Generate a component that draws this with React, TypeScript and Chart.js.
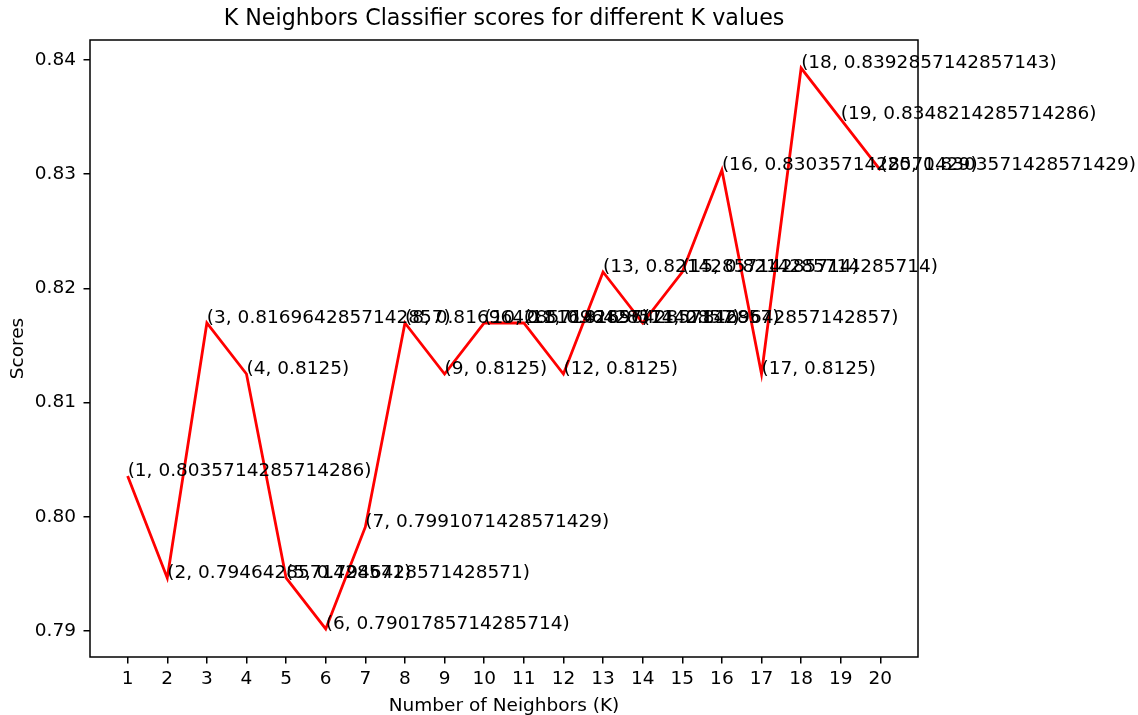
import React, { useEffect, useRef } from "react";
import { Chart, registerables } from "chart.js";

Chart.register(...registerables);

// Number of neighbours tried and the accuracy each one reached
const kValues = [1, 2, 3, 4, 5, 6, 7, 8, 9, 10, 11, 12, 13, 14, 15, 16, 17, 18, 19, 20];
const scores = [
  0.8035714285714286, 0.7946428571428571, 0.8169642857142857, 0.8125,
  0.7946428571428571, 0.7901785714285714, 0.7991071428571429, 0.8169642857142857,
  0.8125, 0.8169642857142857, 0.8169642857142857, 0.8125,
  0.8214285714285714, 0.8169642857142857, 0.8214285714285714, 0.8303571428571429,
  0.8125, 0.8392857142857143, 0.8348214285714286, 0.8303571428571429,
];

const yTicks = [0.79, 0.8, 0.81, 0.82, 0.83, 0.84];
const yTickLabels = ["0.79", "0.80", "0.81", "0.82", "0.83", "0.84"];
const xTickLabels = kValues.map((k) => String(k));

const FONT = "'DejaVu Sans', 'Liberation Sans', sans-serif";
const SMALL = 18.5;
const LARGE = 22.2;

// 5% margins around the data, like a default autoscaled axis
const xMin = Math.min(...kValues);
const xMax = Math.max(...kValues);
const yMin = Math.min(...scores);
const yMax = Math.max(...scores);
const xPad = (xMax - xMin) * 0.05;
const yPad = (yMax - yMin) * 0.05;

// Full box around the plotting area
const framePlugin = {
  id: "frame",
  afterDatasetsDraw(chart: any) {
    const { ctx, chartArea } = chart;
    ctx.save();
    ctx.strokeStyle = "#000";
    ctx.lineWidth = 1.5;
    ctx.strokeRect(
      chartArea.left,
      chartArea.top,
      chartArea.right - chartArea.left,
      chartArea.bottom - chartArea.top
    );
    ctx.restore();
  },
};

// "(k, score)" text at every point
const pointLabelPlugin = {
  id: "pointLabels",
  afterDraw(chart: any) {
    const { ctx } = chart;
    const xs = chart.scales.x;
    const ys = chart.scales.y;
    ctx.save();
    ctx.font = `${SMALL}px ${FONT}`;
    ctx.fillStyle = "#000";
    ctx.textAlign = "left";
    ctx.textBaseline = "alphabetic";
    kValues.forEach((k, i) => {
      const v = scores[i];
      ctx.fillText(`(${k}, ${v})`, xs.getPixelForValue(k), ys.getPixelForValue(v));
    });
    ctx.restore();
  },
};

export default function App() {
  const canvasRef = useRef<HTMLCanvasElement | null>(null);

  useEffect(() => {
    if (!canvasRef.current) return;
    const chart = new Chart(canvasRef.current, {
      type: "line",
      data: {
        datasets: [
          {
            data: kValues.map((k, i) => ({ x: k, y: scores[i] })),
            borderColor: "#ff0000",
            borderWidth: 2.8,
            pointRadius: 0,
            pointHoverRadius: 0,
            tension: 0,
            fill: false,
          },
        ],
      },
      options: {
        responsive: false,
        animation: false,
        events: [],
        layout: { padding: { left: 0, top: 0, right: 220, bottom: 0 } },
        plugins: {
          legend: { display: false },
          tooltip: { enabled: false },
          title: {
            display: true,
            text: "K Neighbors Classifier scores for different K values",
            color: "#000",
            fullSize: false,
            font: { family: FONT, size: LARGE, weight: "normal", lineHeight: 1.2 },
            padding: { top: 6.3, bottom: 7.06 },
          },
        },
        scales: {
          x: {
            type: "linear",
            min: xMin - xPad,
            max: xMax + xPad,
            afterBuildTicks: (scale: any) => {
              scale.ticks = kValues.map((k) => ({ value: k }));
            },
            afterFit: (scale: any) => {
              scale.height = 58;
            },
            border: { display: false },
            grid: {
              display: true,
              drawOnChartArea: false,
              drawTicks: true,
              tickLength: 6.5,
              color: "#000",
              lineWidth: 1.5,
            },
            ticks: {
              autoSkip: false,
              maxRotation: 0,
              padding: 6.5,
              color: "#000",
              font: { family: FONT, size: SMALL, lineHeight: 1 },
              callback: (_v: any, i: number) => xTickLabels[i],
            },
            title: {
              display: true,
              text: "Number of Neighbors (K)",
              color: "#000",
              font: { family: FONT, size: SMALL, lineHeight: 1 },
              padding: { top: 0, bottom: 0 },
            },
          },
          y: {
            type: "linear",
            min: yMin - yPad,
            max: yMax + yPad,
            afterBuildTicks: (scale: any) => {
              scale.ticks = yTicks.map((v) => ({ value: v }));
            },
            afterFit: (scale: any) => {
              scale.width = 90;
            },
            border: { display: false },
            grid: {
              display: true,
              drawOnChartArea: false,
              drawTicks: true,
              tickLength: 6.5,
              color: "#000",
              lineWidth: 1.5,
            },
            ticks: {
              padding: 7.5,
              color: "#000",
              font: { family: FONT, size: SMALL, lineHeight: 1 },
              callback: (_v: any, i: number) => yTickLabels[i],
            },
            title: {
              display: true,
              text: "Scores",
              color: "#000",
              font: { family: FONT, size: SMALL, lineHeight: 1 },
              padding: { top: 9, bottom: 0 },
            },
          },
        },
      } as any,
      plugins: [framePlugin, pointLabelPlugin],
    });
    return () => chart.destroy();
  }, []);

  return (
    <div
      style={{
        position: "fixed",
        left: 0,
        top: 0,
        width: 1138,
        height: 715,
        background: "#fff",
      }}
    >
      <canvas ref={canvasRef} width={1138} height={715} style={{ width: 1138, height: 715 }} />
    </div>
  );
}
